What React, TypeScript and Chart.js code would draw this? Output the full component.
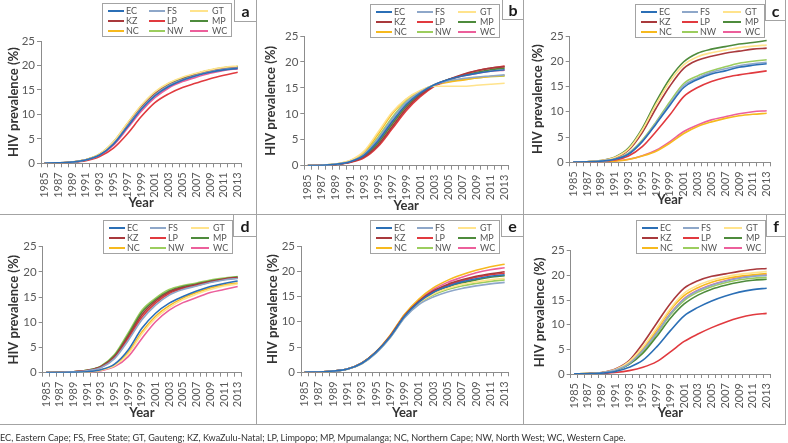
import React, { useEffect, useRef } from "react";
import { Chart, registerables } from "chart.js";

Chart.register(...registerables);

// ---------- data ----------
const YEARS = [
  "1985", "1986", "1987", "1988", "1989", "1990", "1991", "1992", "1993", "1994",
  "1995", "1996", "1997", "1998", "1999", "2000", "2001", "2002", "2003", "2004",
  "2005", "2006", "2007", "2008", "2009", "2010", "2011", "2012", "2013",
];
const READ_YEARS = [
  "1985", "1987", "1989", "1991", "1993", "1995", "1997", "1999",
  "2001", "2003", "2005", "2007", "2009", "2011", "2013",
];
const PROVINCES = ["EC", "FS", "GT", "KZ", "LP", "MP", "NC", "NW", "WC"];
const COLORS = [
  "#2b6fb6", "#8ea7c9", "#ffe38c", "#a9393c", "#e13a3f",
  "#4e8b3c", "#f6b91e", "#9ccd5e", "#ec5f9b",
];

// panel a
const A_EC = [0.02, 0.08, 0.25, 0.68, 1.7, 3.9, 7.4, 11.0, 13.8, 15.7, 17.0, 17.9, 18.6, 19.1, 19.4];
const A_FS = [0.02, 0.08, 0.25, 0.7, 1.7, 4.0, 7.6, 11.2, 14.0, 15.9, 17.1, 18.0, 18.7, 19.2, 19.5];
const A_GT = [0.02, 0.09, 0.27, 0.75, 1.9, 4.4, 8.2, 11.8, 14.6, 16.4, 17.6, 18.4, 19.1, 19.6, 19.9];
const A_KZ = [0.02, 0.08, 0.25, 0.7, 1.8, 4.1, 7.8, 11.4, 14.2, 16.0, 17.2, 18.1, 18.8, 19.3, 19.6];
const A_LP = [0.02, 0.06, 0.2, 0.55, 1.4, 3.1, 6.0, 9.5, 12.4, 14.2, 15.5, 16.4, 17.3, 18.0, 18.6];
const A_MP = [0.02, 0.08, 0.26, 0.72, 1.8, 4.3, 8.0, 11.6, 14.4, 16.2, 17.4, 18.3, 19.0, 19.5, 19.8];
const A_NC = [0.02, 0.08, 0.26, 0.72, 1.8, 4.2, 7.9, 11.5, 14.3, 16.1, 17.3, 18.2, 18.9, 19.4, 19.7];
const A_NW = [0.02, 0.09, 0.27, 0.74, 1.9, 4.4, 8.1, 11.7, 14.5, 16.3, 17.5, 18.3, 19.0, 19.5, 19.8];
const A_WC = [0.02, 0.07, 0.24, 0.66, 1.6, 3.7, 7.1, 10.6, 13.4, 15.4, 16.7, 17.6, 18.4, 19.0, 19.3];

// panel b
const B_EC = [0.02, 0.08, 0.28, 0.78, 2.0, 4.8, 8.5, 11.8, 14.0, 15.6, 16.6, 17.3, 17.8, 18.2, 18.5];
const B_FS = [0.02, 0.09, 0.3, 0.82, 2.2, 5.2, 9.0, 12.2, 14.2, 15.6, 16.4, 16.8, 17.1, 17.3, 17.5];
const B_GT = [0.02, 0.1, 0.35, 1.0, 2.8, 6.5, 10.3, 12.9, 14.5, 15.3, 15.3, 15.3, 15.5, 15.7, 15.9];
const B_KZ = [0.02, 0.07, 0.25, 0.68, 1.7, 4.0, 7.5, 11.0, 13.6, 15.4, 16.6, 17.6, 18.3, 18.8, 19.1];
const B_LP = [0.02, 0.07, 0.23, 0.62, 1.5, 3.7, 7.1, 10.6, 13.3, 15.3, 16.5, 17.5, 18.3, 18.8, 19.2];
const B_MP = [0.02, 0.08, 0.26, 0.72, 1.8, 4.4, 8.0, 11.4, 13.8, 15.5, 16.6, 17.4, 18.0, 18.5, 18.8];
const B_NC = [0.02, 0.1, 0.33, 0.95, 2.6, 6.1, 10.0, 12.8, 14.4, 15.5, 16.1, 16.5, 16.9, 17.2, 17.4];
const B_NW = [0.02, 0.09, 0.3, 0.85, 2.3, 5.5, 9.3, 12.4, 14.3, 15.6, 16.3, 16.6, 16.9, 17.2, 17.3];
const B_WC = [0.02, 0.08, 0.27, 0.75, 1.9, 4.6, 8.2, 11.6, 13.9, 15.6, 16.6, 17.3, 17.8, 18.2, 18.4];

// panel c
const C_EC = [0.03, 0.08, 0.23, 0.6, 1.6, 4.1, 7.6, 11.3, 14.8, 16.4, 17.5, 18.1, 18.8, 19.2, 19.5];
const C_FS = [0.03, 0.09, 0.24, 0.63, 1.7, 4.2, 7.8, 11.6, 15.2, 16.7, 17.8, 18.5, 19.1, 19.5, 19.8];
const C_GT = [0.04, 0.12, 0.34, 0.95, 2.6, 6.4, 11.5, 16.0, 19.3, 20.9, 21.7, 22.2, 22.7, 23.0, 23.2];
const C_KZ = [0.04, 0.11, 0.32, 0.9, 2.4, 5.9, 10.7, 15.1, 18.6, 20.2, 21.0, 21.6, 22.0, 22.4, 22.6];
const C_LP = [0.03, 0.07, 0.18, 0.45, 1.25, 3.1, 6.1, 9.4, 13.0, 14.8, 16.0, 16.8, 17.3, 17.7, 18.1];
const C_MP = [0.04, 0.12, 0.35, 1.0, 2.8, 6.7, 12.0, 16.6, 19.9, 21.6, 22.4, 22.9, 23.4, 23.7, 24.1];
const C_NC = [0.02, 0.05, 0.1, 0.22, 0.55, 1.25, 2.2, 3.8, 5.7, 7.1, 8.0, 8.7, 9.2, 9.5, 9.7];
const C_NW = [0.03, 0.09, 0.25, 0.65, 1.8, 4.4, 8.0, 12.0, 15.6, 17.1, 18.1, 18.9, 19.6, 20.0, 20.3];
const C_WC = [0.02, 0.05, 0.1, 0.25, 0.6, 1.3, 2.4, 4.1, 6.1, 7.4, 8.4, 9.0, 9.6, 10.0, 10.2];

// panel d
const D_EC = [0.01, 0.03, 0.08, 0.2, 0.6, 1.7, 4.5, 8.8, 11.8, 13.8, 15.1, 16.2, 17.1, 17.7, 18.2];
const D_FS = [0.02, 0.05, 0.17, 0.4, 1.0, 2.8, 6.4, 10.5, 13.4, 15.4, 16.5, 17.2, 17.9, 18.4, 18.7];
const D_GT = [0.01, 0.02, 0.06, 0.16, 0.5, 1.4, 3.7, 7.7, 10.8, 12.9, 14.5, 15.6, 16.5, 17.2, 17.6];
const D_KZ = [0.02, 0.06, 0.19, 0.45, 1.2, 3.2, 7.2, 11.5, 14.2, 16.0, 16.9, 17.5, 18.1, 18.6, 18.9];
const D_LP = [0.02, 0.05, 0.18, 0.42, 1.1, 3.0, 6.8, 11.0, 13.8, 15.7, 16.7, 17.3, 18.0, 18.5, 18.8];
const D_MP = [0.02, 0.06, 0.19, 0.48, 1.25, 3.4, 7.5, 12.0, 14.5, 16.2, 17.1, 17.6, 18.2, 18.6, 19.0];
const D_NC = [0.01, 0.03, 0.07, 0.18, 0.55, 1.5, 4.0, 8.1, 11.2, 13.3, 14.8, 15.9, 16.8, 17.4, 17.8];
const D_NW = [0.02, 0.06, 0.2, 0.5, 1.3, 3.6, 7.9, 12.4, 14.8, 16.5, 17.3, 17.8, 18.4, 18.8, 19.1];
const D_WC = [0.01, 0.02, 0.05, 0.12, 0.4, 1.2, 3.2, 6.8, 10.1, 12.4, 13.9, 14.9, 15.9, 16.5, 17.1];

// panel e
const E_EC = [0.02, 0.07, 0.25, 0.65, 1.8, 4.0, 7.1, 11.1, 13.9, 15.8, 17.0, 17.9, 18.5, 19.0, 19.3];
const E_FS = [0.02, 0.07, 0.24, 0.63, 1.7, 3.8, 6.9, 10.8, 13.4, 14.9, 15.9, 16.6, 17.1, 17.5, 17.8];
const E_GT = [0.02, 0.07, 0.24, 0.64, 1.75, 3.9, 7.0, 11.0, 13.7, 15.5, 16.6, 17.4, 17.9, 18.3, 18.6];
const E_KZ = [0.02, 0.07, 0.25, 0.65, 1.8, 4.0, 7.2, 11.2, 14.1, 16.1, 17.4, 18.3, 19.0, 19.5, 19.9];
const E_LP = [0.02, 0.07, 0.25, 0.65, 1.8, 4.0, 7.2, 11.2, 14.0, 15.9, 17.2, 18.1, 18.8, 19.3, 19.6];
const E_MP = [0.02, 0.07, 0.25, 0.65, 1.8, 4.0, 7.1, 11.1, 13.8, 15.7, 16.9, 17.7, 18.3, 18.8, 19.1];
const E_NC = [0.02, 0.07, 0.26, 0.67, 1.85, 4.1, 7.4, 11.5, 14.5, 16.7, 18.2, 19.3, 20.2, 20.9, 21.4];
const E_NW = [0.02, 0.07, 0.24, 0.63, 1.7, 3.85, 6.95, 10.9, 13.6, 15.3, 16.4, 17.1, 17.6, 18.0, 18.3];
const E_WC = [0.02, 0.07, 0.25, 0.66, 1.8, 4.05, 7.3, 11.4, 14.3, 16.4, 17.8, 18.8, 19.7, 20.3, 20.7];

// panel f
const F_EC = [0.02, 0.06, 0.18, 0.5, 1.35, 2.8, 5.5, 8.8, 11.8, 13.5, 14.8, 15.8, 16.6, 17.1, 17.4];
const F_FS = [0.03, 0.08, 0.26, 0.8, 2.1, 4.8, 8.3, 12.2, 15.2, 16.9, 18.0, 18.8, 19.4, 19.8, 20.0];
const F_GT = [0.03, 0.09, 0.28, 0.9, 2.5, 5.5, 9.3, 13.3, 16.4, 18.0, 19.0, 19.7, 20.2, 20.5, 20.8];
const F_KZ = [0.03, 0.1, 0.3, 1.0, 2.7, 6.2, 10.3, 14.3, 17.4, 18.9, 19.8, 20.3, 20.8, 21.2, 21.4];
const F_LP = [0.02, 0.04, 0.1, 0.3, 0.68, 1.35, 2.5, 4.5, 6.6, 8.1, 9.4, 10.5, 11.4, 12.0, 12.3];
const F_MP = [0.03, 0.08, 0.24, 0.72, 1.95, 4.2, 7.6, 11.3, 14.2, 16.0, 17.2, 18.0, 18.6, 19.0, 19.2];
const F_NC = [0.03, 0.09, 0.27, 0.85, 2.3, 5.2, 8.9, 13.0, 15.9, 17.5, 18.6, 19.3, 19.8, 20.1, 20.4];
const F_NW = [0.03, 0.08, 0.25, 0.75, 2.0, 4.5, 8.1, 12.0, 14.9, 16.6, 17.7, 18.5, 19.1, 19.4, 19.6];
const F_WC = [0.03, 0.08, 0.26, 0.8, 2.1, 4.9, 8.4, 12.3, 15.3, 17.0, 18.1, 18.9, 19.5, 19.9, 20.1];

const Y_TICKS = [0, 5, 10, 15, 20, 25];
const FOOTNOTE =
  "EC, Eastern Cape; FS, Free State; GT, Gauteng; KZ, KwaZulu-Natal; LP, Limpopo; MP, Mpumalanga; NC, Northern Cape; NW, North West; WC, Western Cape.";

// ---------- layout ----------
type Panel = {
  letter: string;
  series: number[][];
  x: number; y: number; w: number; h: number;
  L: number; R: number; T: number; B: number;
  yTitlePad: number; xTitlePad: number;
  legX: number; legY: number;
  boxX: number; boxH: number;
};

const PANELS: Panel[] = [
  { letter: "a", series: [A_EC, A_FS, A_GT, A_KZ, A_LP, A_MP, A_NC, A_NW, A_WC],
    x: 0, y: 0, w: 256, h: 214, L: 41, R: 250.6, T: 41, B: 163.3, yTitlePad: 6, xTitlePad: 3.2,
    legX: 102, legY: 3, boxX: 234, boxH: 22 },
  { letter: "b", series: [B_EC, B_FS, B_GT, B_KZ, B_LP, B_MP, B_NC, B_NW, B_WC],
    x: 256, y: 0, w: 267, h: 214, L: 48.3, R: 258, T: 36, B: 165.7, yTitlePad: 7, xTitlePad: 0.5,
    legX: 114, legY: 4, boxX: 246, boxH: 20 },
  { letter: "c", series: [C_EC, C_FS, C_GT, C_KZ, C_LP, C_MP, C_NC, C_NW, C_WC],
    x: 523, y: 0, w: 262, h: 214, L: 46.7, R: 255.3, T: 36, B: 162.3, yTitlePad: 7, xTitlePad: 6.2,
    legX: 112, legY: 4, boxX: 242, boxH: 21 },
  { letter: "d", series: [D_EC, D_FS, D_GT, D_KZ, D_LP, D_MP, D_NC, D_NW, D_WC],
    x: 0, y: 214, w: 256, h: 210, L: 42.7, R: 248.6, T: 32.7, B: 158.7, yTitlePad: 6, xTitlePad: 3,
    legX: 103, legY: 6, boxX: 233, boxH: 23 },
  { letter: "e", series: [E_EC, E_FS, E_GT, E_KZ, E_LP, E_MP, E_NC, E_NW, E_WC],
    x: 256, y: 214, w: 267, h: 210, L: 45, R: 259, T: 32, B: 158.3, yTitlePad: 9, xTitlePad: 3,
    legX: 114, legY: 6, boxX: 245, boxH: 23 },
  { letter: "f", series: [F_EC, F_FS, F_GT, F_KZ, F_LP, F_MP, F_NC, F_NW, F_WC],
    x: 523, y: 214, w: 262, h: 210, L: 47.7, R: 255.3, T: 36.7, B: 160, yTitlePad: 9, xTitlePad: 3,
    legX: 113, legY: 6, boxX: 243, boxH: 23 },
];

const FONT = "Lato, 'DejaVu Sans', sans-serif";
const AXIS = "#8c8c8c";
const TICK = "#595959";
const TITLE = "#333333";
const FRAME = "#a3a3a3";

function PanelChart({ p }: { p: Panel }) {
  const ref = useRef<HTMLCanvasElement>(null);
  useEffect(() => {
    if (!ref.current) return;
    const chart = new Chart(ref.current, {
      type: "line",
      data: {
        labels: YEARS,
        datasets: PROVINCES.map((name, i) => ({
          label: name,
          data: READ_YEARS.map((yr, k) => ({ x: yr, y: p.series[i][k] })),
          borderColor: COLORS[i],
          backgroundColor: COLORS[i],
          borderWidth: 1.6,
          pointRadius: 0,
          fill: false,
          cubicInterpolationMode: "monotone" as const,
        })),
      },
      options: {
        responsive: false,
        animation: false,
        devicePixelRatio: 1,
        layout: { padding: { left: 0, top: p.T, right: p.w - p.R, bottom: 0 } },
        plugins: { legend: { display: false }, tooltip: { enabled: false } },
        scales: {
          x: {
            type: "category",
            offset: true,
            grid: { offset: true, drawOnChartArea: false, drawTicks: true, tickLength: 4, color: AXIS },
            border: { display: true, color: AXIS, width: 1 },
            ticks: {
              autoSkip: false,
              minRotation: 90,
              maxRotation: 90,
              padding: 5,
              color: TICK,
              font: { family: FONT, size: 11 },
              callback: (_v: any, i: number) => (i % 2 === 0 ? YEARS[i] : ""),
            },
            title: {
              display: true,
              text: "Year",
              color: TITLE,
              font: { family: FONT, size: 13, weight: "bold" },
              padding: { top: 0, bottom: p.xTitlePad },
            },
            afterFit: (s: any) => {
              s.height = p.h - p.B;
            },
          },
          y: {
            min: 0,
            max: 25,
            afterBuildTicks: (s: any) => {
              s.ticks = Y_TICKS.map((v) => ({ value: v }));
            },
            ticks: { padding: 2, color: TICK, font: { family: FONT, size: 11.5 } },
            grid: { drawOnChartArea: false, drawTicks: true, tickLength: 4, color: AXIS },
            border: { display: true, color: AXIS, width: 1 },
            title: {
              display: true,
              text: "HIV prevalence (%)",
              color: TITLE,
              font: { family: FONT, size: 13, weight: "bold" },
              padding: { top: p.yTitlePad, bottom: 0 },
            },
            afterFit: (s: any) => {
              s.width = p.L;
            },
          },
        },
      } as any,
    });
    return () => chart.destroy();
  }, [p]);

  return (
    <div style={{ position: "absolute", left: p.x, top: p.y, width: p.w, height: p.h }}>
      <canvas ref={ref} width={p.w} height={p.h} style={{ position: "absolute", left: 0, top: 0 }} />
      <div
        style={{
          position: "absolute",
          left: p.legX,
          top: p.legY,
          width: 130,
          height: 34,
          boxSizing: "border-box",
          border: `1px solid ${FRAME}`,
          background: "#fff",
          fontFamily: FONT,
          fontWeight: 400,
          fontSize: 9,
          color: "#555",
        }}
      >
        {PROVINCES.map((name, i) => {
          const col = i % 3;
          const row = Math.floor(i / 3);
          return (
            <div
              key={name}
              style={{
                position: "absolute",
                left: 5 + col * 41,
                top: 2 + row * 10,
                height: 10,
                display: "flex",
                alignItems: "center",
                whiteSpace: "nowrap",
              }}
            >
              <span
                style={{
                  display: "inline-block",
                  width: col === 2 ? 18 : 16,
                  height: 2,
                  background: COLORS[i],
                  marginRight: col === 2 ? 4 : 2,
                }}
              />
              <span style={{ lineHeight: "10px" }}>{name}</span>
            </div>
          );
        })}
      </div>
      <div
        style={{
          position: "absolute",
          left: p.boxX,
          top: 0,
          width: p.w - p.boxX,
          height: p.boxH,
          boxSizing: "border-box",
          borderLeft: `1px solid ${FRAME}`,
          borderBottom: `1px solid ${FRAME}`,
          background: "#fff",
          display: "flex",
          alignItems: "center",
          justifyContent: "center",
          fontFamily: FONT,
          fontWeight: 700,
          fontSize: 16,
          color: "#1a1a1a",
        }}
      >
        {p.letter}
      </div>
    </div>
  );
}

export default function App() {
  return (
    <div
      style={{
        position: "fixed",
        left: 0,
        top: 0,
        width: 788,
        height: 443,
        background: "#fff",
        overflow: "hidden",
      }}
    >
      {PANELS.map((p) => (
        <PanelChart key={p.letter} p={p} />
      ))}
      <div style={{ position: "absolute", left: 256, top: 0, width: 1, height: 425, background: FRAME }} />
      <div style={{ position: "absolute", left: 523, top: 0, width: 1, height: 425, background: FRAME }} />
      <div style={{ position: "absolute", left: 785, top: 0, width: 1, height: 425, background: FRAME }} />
      <div style={{ position: "absolute", left: 0, top: 214, width: 786, height: 1, background: FRAME }} />
      <div style={{ position: "absolute", left: 0, top: 424, width: 786, height: 1, background: FRAME }} />
      <div
        style={{
          position: "absolute",
          left: 0,
          top: 432,
          fontFamily: FONT,
          fontSize: 9.1,
          lineHeight: "12px",
          color: "#333",
          whiteSpace: "nowrap",
        }}
      >
        {FOOTNOTE}
      </div>
    </div>
  );
}
